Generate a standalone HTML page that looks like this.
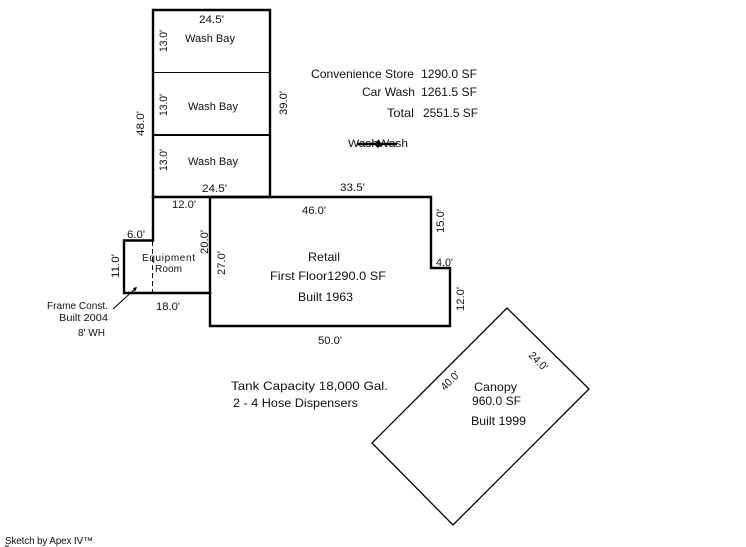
<!DOCTYPE html>
<html><head><meta charset="utf-8"><style>
html,body{margin:0;padding:0;background:#fff}
svg{display:block}
text{font-family:"Liberation Sans",sans-serif;font-size:11px;fill:#111}
.l{font-size:12px}
</style></head><body>
<svg width="746" height="547" viewBox="0 0 746 547" xmlns="http://www.w3.org/2000/svg">
<g fill="none" stroke="#000" stroke-linecap="square">
<path d="M153 10H270V197H153Z" stroke-width="2.4"/>
<path d="M153 72.500H270" stroke-width="1"/>
<path d="M153 135H270" stroke-width="2"/>
<path d="M210 197H431V268H450V326H210Z" stroke-width="2.4"/>
<path d="M153 197V240.500H124V293H210" stroke-width="2.400"/>
<path d="M152.500 241V293" stroke-width="1" stroke-dasharray="5 3" stroke-linecap="butt"/>
<path d="M507 308L589 389L453 525L372 443Z" stroke-width="1.300" stroke-linejoin="miter"/>
<path d="M113 309L136 288" stroke-width="1" stroke-linecap="butt"/>
<path d="M357 144H397" stroke-width="2.500" stroke-linecap="butt"/>
</g>
<path d="M133 288L137 287L135 292Z" fill="#000"/>
<path d="M378 140L382 144L378 148L374 144Z" fill="#000"/>

<text x="199" y="23" textLength="25" lengthAdjust="spacingAndGlyphs">24.5'</text>
<text x="185" y="42" textLength="50" lengthAdjust="spacingAndGlyphs">Wash Bay</text>
<text x="188" y="110" textLength="50" lengthAdjust="spacingAndGlyphs">Wash Bay</text>
<text x="188" y="165" textLength="50" lengthAdjust="spacingAndGlyphs">Wash Bay</text>
<text x="202" y="192" textLength="25" lengthAdjust="spacingAndGlyphs">24.5'</text>
<text x="172" y="208" textLength="24" lengthAdjust="spacingAndGlyphs">12.0'</text>
<text x="340" y="191" textLength="25" lengthAdjust="spacingAndGlyphs">33.5'</text>
<text x="302" y="214" textLength="24" lengthAdjust="spacingAndGlyphs">46.0'</text>
<text x="127" y="238" textLength="18" lengthAdjust="spacingAndGlyphs">6.0'</text>
<text x="436" y="266" textLength="17" lengthAdjust="spacingAndGlyphs">4.0'</text>
<text x="156" y="310" textLength="24" lengthAdjust="spacingAndGlyphs">18.0'</text>
<text x="318" y="344" textLength="24" lengthAdjust="spacingAndGlyphs">50.0'</text>

<text transform="translate(167,52) rotate(-90)" textLength="22" lengthAdjust="spacingAndGlyphs">13.0'</text>
<text transform="translate(167,116) rotate(-90)" textLength="22" lengthAdjust="spacingAndGlyphs">13.0'</text>
<text transform="translate(167,171) rotate(-90)" textLength="22" lengthAdjust="spacingAndGlyphs">13.0'</text>
<text transform="translate(144,136) rotate(-90)" textLength="25" lengthAdjust="spacingAndGlyphs">48.0'</text>
<text transform="translate(287,115) rotate(-90)" textLength="24" lengthAdjust="spacingAndGlyphs">39.0'</text>
<text transform="translate(208,254) rotate(-90)" textLength="24" lengthAdjust="spacingAndGlyphs">20.0'</text>
<text transform="translate(225,275) rotate(-90)" textLength="24" lengthAdjust="spacingAndGlyphs">27.0'</text>
<text transform="translate(119,278) rotate(-90)" textLength="24" lengthAdjust="spacingAndGlyphs">11.0'</text>
<text transform="translate(444,233) rotate(-90)" textLength="24" lengthAdjust="spacingAndGlyphs">15.0'</text>
<text transform="translate(464,311) rotate(-90)" textLength="24" lengthAdjust="spacingAndGlyphs">12.0'</text>

<text x="142" y="261" textLength="53" lengthAdjust="spacing" style="font-size:10px">Equipment</text>
<text x="155" y="272" style="font-size:10px" textLength="27" lengthAdjust="spacing">Room</text>

<text x="47" y="309" style="font-size:10px" textLength="61" lengthAdjust="spacingAndGlyphs">Frame Const.</text>
<text x="59" y="321" style="font-size:10px" textLength="49" lengthAdjust="spacingAndGlyphs">Built 2004</text>
<text x="78" y="336" style="font-size:10px" textLength="27" lengthAdjust="spacingAndGlyphs">8' WH</text>

<text class="l" x="308" y="261" textLength="32" lengthAdjust="spacingAndGlyphs">Retail</text>
<text class="l" x="270" y="280" textLength="116" lengthAdjust="spacingAndGlyphs">First Floor1290.0 SF</text>
<text class="l" x="298" y="301" textLength="55" lengthAdjust="spacingAndGlyphs">Built 1963</text>

<text class="l" x="311" y="78" textLength="103" lengthAdjust="spacingAndGlyphs">Convenience Store</text>
<text class="l" x="421" y="78" textLength="56" lengthAdjust="spacingAndGlyphs">1290.0 SF</text>
<text class="l" x="362" y="96" textLength="53" lengthAdjust="spacingAndGlyphs">Car Wash</text>
<text class="l" x="421" y="96" textLength="56" lengthAdjust="spacingAndGlyphs">1261.5 SF</text>
<text class="l" x="387" y="117" textLength="27" lengthAdjust="spacingAndGlyphs">Total</text>
<text class="l" x="423" y="117" textLength="55" lengthAdjust="spacingAndGlyphs">2551.5 SF</text>

<text x="348" y="147" textLength="30" lengthAdjust="spacingAndGlyphs">Wash</text>
<text x="378" y="147" textLength="30" lengthAdjust="spacingAndGlyphs">Wash</text>

<text class="l" x="231" y="390" textLength="157" lengthAdjust="spacingAndGlyphs">Tank Capacity 18,000 Gal.</text>
<text class="l" x="233" y="407" textLength="125" lengthAdjust="spacingAndGlyphs">2 - 4 Hose Dispensers</text>

<text class="l" x="474" y="391" textLength="43" lengthAdjust="spacingAndGlyphs">Canopy</text>
<text class="l" x="472" y="405" textLength="49" lengthAdjust="spacingAndGlyphs">960.0 SF</text>
<text class="l" x="471" y="425" textLength="55" lengthAdjust="spacingAndGlyphs">Built 1999</text>
<text transform="translate(445,391) rotate(-45)" textLength="22" lengthAdjust="spacingAndGlyphs">40.0'</text>
<text transform="translate(528,356) rotate(45)" textLength="22" lengthAdjust="spacingAndGlyphs">24.0'</text>

<text x="5" y="544" style="font-size:10px" textLength="88" lengthAdjust="spacing">Sketch by Apex IV™</text>
<path d="M5 546H9" stroke="#000" stroke-width="1"/>
</svg>
</body></html>
